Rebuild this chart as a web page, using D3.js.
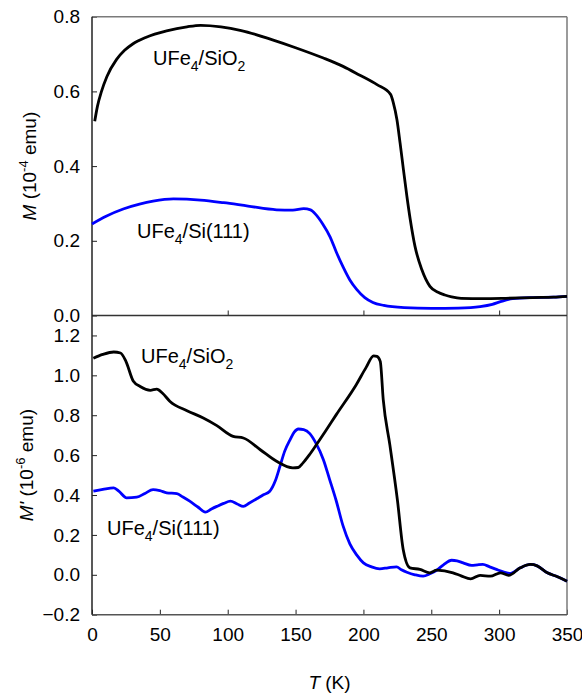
<!DOCTYPE html>
<html>
<head>
<meta charset="utf-8">
<script src="https://cdn.jsdelivr.net/npm/d3@7"></script>
<style>
  body { margin: 0; background: #fff; }
  text { font-family: "Liberation Sans", Arial, sans-serif; fill: #000; }
</style>
</head>
<body>
<div id="chart"></div>
<script>
var svgWidth = 582;
var svgHeight = 693;

// plot area (pixels)
var left = 92, right = 567;
var topY = 16.7, midY = 315.5, botY = 614.7;

// ---- data ----
// top panel M (10^-4 emu), UFe4/SiO2
var tSiO2Top = [2, 4, 7, 11, 18, 24, 30, 40, 55, 70, 80, 95, 110, 133, 150, 170, 185, 197, 210, 220, 222, 224.7, 227, 229.5, 232, 234.5, 238, 243, 249, 255, 260, 265, 272, 288, 305, 325, 340, 350];
var mSiO2Top = [0.52, 0.56, 0.60, 0.64, 0.685, 0.71, 0.727, 0.745, 0.762, 0.773, 0.777, 0.773, 0.763, 0.738, 0.717, 0.69, 0.667, 0.644, 0.618, 0.592, 0.57, 0.524, 0.462, 0.39, 0.32, 0.257, 0.185, 0.123, 0.078, 0.062, 0.055, 0.05, 0.046, 0.045, 0.046, 0.048, 0.049, 0.051];
// top panel, UFe4/Si(111)
var tSiTop = [0, 10, 23, 35, 45, 60, 80, 97, 115, 136, 148, 156, 161, 165, 170, 175.5, 180, 185, 190, 195, 201, 207, 215, 230, 250, 270, 286, 295, 301, 310, 325, 340, 350];
var mSiTop = [0.245, 0.265, 0.285, 0.298, 0.306, 0.312, 0.309, 0.302, 0.293, 0.283, 0.282, 0.286, 0.283, 0.27, 0.245, 0.21, 0.17, 0.13, 0.095, 0.07, 0.048, 0.035, 0.027, 0.021, 0.019, 0.02, 0.024, 0.03, 0.037, 0.045, 0.048, 0.049, 0.051];

// bottom panel M' (10^-6 emu), UFe4/SiO2
var tSiO2Bot = [1, 8, 16, 21, 25, 30.5, 35.5, 43, 47.7, 52, 57.5, 70, 82, 92, 104, 111.5, 124, 136, 148, 152, 155.5, 160, 165.3, 172, 180, 194.7, 202, 207.5, 210, 212.4, 214.6, 219.5, 225, 229.3, 234.3, 241.6, 249, 254, 266, 272, 279, 286, 293.5, 301, 307, 315.6, 323, 328, 335.5, 343, 350];
var mSiO2Bot = [1.086, 1.105, 1.117, 1.112, 1.07, 0.97, 0.944, 0.925, 0.931, 0.91, 0.869, 0.823, 0.786, 0.748, 0.694, 0.686, 0.627, 0.569, 0.536, 0.538, 0.561, 0.6, 0.652, 0.72, 0.803, 0.953, 1.04, 1.098, 1.095, 1.07, 0.878, 0.65, 0.377, 0.127, 0.035, 0.027, 0.01, 0.023, 0.01, -0.005, -0.02, -0.003, -0.007, 0.01, -0.003, 0.035, 0.052, 0.045, 0.01, -0.01, -0.032];
// bottom panel, UFe4/Si(111)
var tSiBot = [1, 8, 16, 20, 25.5, 33, 39, 45, 50, 55, 62.5, 67, 72, 78, 83.5, 88, 92, 97, 102, 107, 111.5, 116, 121.3, 126, 131, 135, 138.5, 142, 146, 149, 152, 156, 160.5, 165, 170.5, 175, 180, 185, 190, 195, 200, 206, 212, 218, 224.4, 228, 232, 238, 244, 249, 254, 259, 265, 269, 273.5, 279.7, 284, 288, 293, 298, 303, 308, 315.6, 323, 328, 335.5, 343, 350];
var mSiBot = [0.419, 0.428, 0.436, 0.418, 0.386, 0.389, 0.408, 0.427, 0.422, 0.411, 0.407, 0.39, 0.369, 0.34, 0.314, 0.33, 0.343, 0.358, 0.369, 0.355, 0.343, 0.36, 0.381, 0.4, 0.419, 0.47, 0.544, 0.62, 0.678, 0.715, 0.731, 0.728, 0.708, 0.66, 0.577, 0.48, 0.37, 0.245, 0.155, 0.1, 0.06, 0.04, 0.03, 0.035, 0.04, 0.025, 0.013, 0.0, -0.007, 0.005, 0.023, 0.05, 0.073, 0.07, 0.06, 0.047, 0.05, 0.052, 0.04, 0.027, 0.015, 0.007, 0.035, 0.052, 0.045, 0.01, -0.01, -0.032];

// tick values
var xTicksBot = [0, 50, 100, 150, 200, 250, 300, 350];
var xTicksTop = [100, 200, 300];
var yTicksTop = [0.0, 0.2, 0.4, 0.6, 0.8];
var yTicksBot = [-0.2, 0.0, 0.2, 0.4, 0.6, 0.8, 1.0, 1.2];

var svg = d3.select("#chart").append("svg")
  .attr("width", svgWidth)
  .attr("height", svgHeight);

var xScale = d3.scaleLinear().domain([0, 350]).range([left, right]);
var yTop = d3.scaleLinear().domain([0, 0.8]).range([midY, topY]);
var yBot = d3.scaleLinear().domain([-0.2, 1.3]).range([botY, midY]);

function zip(ts, ms) {
  return ts.map(function(t, i) { return [t, ms[i]]; });
}

function styleAxis(g) {
  g.selectAll("text").style("font-size", "19px").attr("fill", "#000");
  g.selectAll("line").attr("stroke", "#222");
  g.select(".domain").remove();
}

// top panel axes
svg.append("g")
  .attr("transform", "translate(" + left + ",0)")
  .call(d3.axisLeft(yTop).tickValues(yTicksTop).tickFormat(d3.format(".1f"))
    .tickSizeInner(-5).tickSizeOuter(0).tickPadding(12))
  .call(styleAxis);

svg.append("g")
  .attr("transform", "translate(0," + midY + ")")
  .call(d3.axisBottom(xScale).tickValues(xTicksTop).tickFormat("")
    .tickSizeInner(-5).tickSizeOuter(0))
  .call(styleAxis);

// bottom panel axes
svg.append("g")
  .attr("transform", "translate(" + left + ",0)")
  .call(d3.axisLeft(yBot).tickValues(yTicksBot).tickFormat(d3.format(".1f"))
    .tickSizeInner(-5).tickSizeOuter(0).tickPadding(12))
  .call(styleAxis);

svg.append("g")
  .attr("transform", "translate(0," + botY + ")")
  .call(d3.axisBottom(xScale).tickValues(xTicksBot).tickFormat(d3.format("d"))
    .tickSizeInner(-5).tickSizeOuter(0).tickPadding(13))
  .call(styleAxis);

// frame lines
svg.append("line").attr("x1", left).attr("x2", right).attr("y1", topY).attr("y2", topY)
  .attr("stroke", "#7a7a7a").attr("stroke-width", 1.5);
svg.append("line").attr("x1", right).attr("x2", right).attr("y1", topY).attr("y2", botY)
  .attr("stroke", "#7a7a7a").attr("stroke-width", 1.5);
svg.append("line").attr("x1", left).attr("x2", right).attr("y1", botY).attr("y2", botY)
  .attr("stroke", "#555").attr("stroke-width", 1.5);
svg.append("line").attr("x1", left).attr("x2", right).attr("y1", midY).attr("y2", midY)
  .attr("stroke", "#333").attr("stroke-width", 1.5);
svg.append("line").attr("x1", left).attr("x2", left).attr("y1", topY).attr("y2", botY)
  .attr("stroke", "#222").attr("stroke-width", 1.5);

// curves
var lineTop = d3.line().x(d => xScale(d[0])).y(d => yTop(d[1])).curve(d3.curveMonotoneX);
var lineBot = d3.line().x(d => xScale(d[0])).y(d => yBot(d[1])).curve(d3.curveMonotoneX);

svg.append("path").datum(zip(tSiTop, mSiTop))
  .attr("d", lineTop).attr("fill", "none").attr("stroke", "#0000ff").attr("stroke-width", 2.8);
svg.append("path").datum(zip(tSiO2Top, mSiO2Top))
  .attr("d", lineTop).attr("fill", "none").attr("stroke", "#000").attr("stroke-width", 2.8);

svg.append("path").datum(zip(tSiBot, mSiBot))
  .attr("d", lineBot).attr("fill", "none").attr("stroke", "#0000ff").attr("stroke-width", 2.8);
svg.append("path").datum(zip(tSiO2Bot, mSiO2Bot))
  .attr("d", lineBot).attr("fill", "none").attr("stroke", "#000").attr("stroke-width", 2.8);

// series labels with subscripts
function seriesLabel(x, y, parts) {
  var t = svg.append("text").attr("x", x).attr("y", y).style("font-size", "20px");
  var shift = 0;
  parts.forEach(function(p) {
    var sub = p[1];
    var want = sub ? 6 : 0;
    t.append("tspan").attr("dy", want - shift)
      .style("font-size", sub ? "14px" : "20px").text(p[0]);
    shift = want;
  });
}
seriesLabel(153, 65, [["UFe", 0], ["4", 1], ["/SiO", 0], ["2", 1]]);
seriesLabel(137, 238, [["UFe", 0], ["4", 1], ["/Si(111)", 0]]);
seriesLabel(141, 363, [["UFe", 0], ["4", 1], ["/SiO", 0], ["2", 1]]);
seriesLabel(107, 535, [["UFe", 0], ["4", 1], ["/Si(111)", 0]]);

// axis titles
function yTitle(x, cy, sym, exp) {
  var t = svg.append("text")
    .attr("transform", "translate(" + x + "," + cy + ") rotate(-90)")
    .attr("text-anchor", "middle")
    .style("font-size", "19px");
  t.append("tspan").style("font-style", "italic").text(sym);
  t.append("tspan").text(" (10");
  t.append("tspan").attr("dy", -8).style("font-size", "13px").text(exp);
  t.append("tspan").attr("dy", 8).text(" emu)");
}
yTitle(36, (topY + midY) / 2, "M", "-4");
yTitle(33, (midY + botY) / 2, "M'", "-6");

var xt = svg.append("text")
  .attr("x", (left + right) / 2).attr("y", 689)
  .attr("text-anchor", "middle")
  .style("font-size", "19px");
xt.append("tspan").style("font-style", "italic").text("T");
xt.append("tspan").text(" (K)");
</script>
</body>
</html>
